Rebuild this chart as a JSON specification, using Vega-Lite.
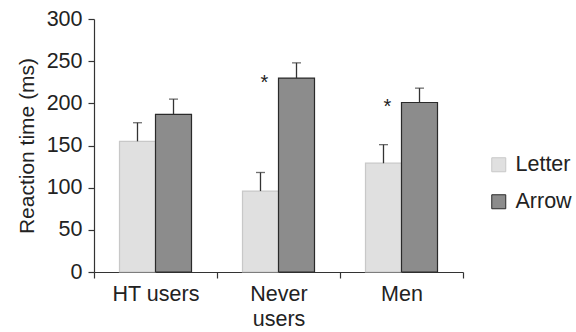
{
  "$schema": "https://vega.github.io/schema/vega-lite/v6.json",
  "width": 369,
  "height": 253,
  "autosize": {"type": "none"},
  "padding": {"left": 94, "top": 19, "right": 113, "bottom": 60},
  "background": "white",
  "config": {
    "view": {"stroke": null},
    "font": "Liberation Sans",
    "axis": {"domainColor": "#333", "tickColor": "#333", "labelColor": "#222", "titleColor": "#222", "labelFont": "Liberation Sans", "titleFont": "Liberation Sans"},
    "legend": {"labelFont": "Liberation Sans"}
  },
  "data": {
    "values": [
      {"group": "HT users", "condition": "Letter", "rt": 155, "hi": 177, "sig": false},
      {"group": "HT users", "condition": "Arrow", "rt": 187, "hi": 205, "sig": false},
      {"group": "Never users", "condition": "Letter", "rt": 96, "hi": 118, "sig": true},
      {"group": "Never users", "condition": "Arrow", "rt": 230, "hi": 248, "sig": true},
      {"group": "Men", "condition": "Letter", "rt": 129, "hi": 151, "sig": true},
      {"group": "Men", "condition": "Arrow", "rt": 201, "hi": 218, "sig": true}
    ]
  },
  "encoding": {
    "x": {
      "field": "group",
      "type": "nominal",
      "sort": ["HT users", "Never users", "Men"],
      "scale": {"paddingInner": 0, "paddingOuter": 0},
      "axis": {
        "title": null,
        "labelAngle": 0,
        "labelFontSize": 21.5,
        "labelPadding": 5,
        "labelLineHeight": 25,
        "labelBaseline": "top",
        "labelExpr": "datum.value == 'Never users' ? ['Never', 'users'] : datum.value",
        "tickSize": 6,
        "tickBand": "extent",
        "domainWidth": 1.2,
        "tickWidth": 1.2
      }
    },
    "xOffset": {
      "field": "condition",
      "sort": ["Letter", "Arrow"],
      "scale": {"paddingInner": 0, "paddingOuter": 0.708}
    }
  },
  "layer": [
    {
      "mark": {"type": "bar", "strokeWidth": 1.2},
      "encoding": {
        "y": {
          "field": "rt",
          "type": "quantitative",
          "scale": {"domain": [0, 300], "nice": false},
          "axis": {
            "title": "Reaction time (ms)",
            "values": [0, 50, 100, 150, 200, 250, 300],
            "grid": false,
            "labelFontSize": 21.5,
            "titleFontSize": 21,
            "titleFontWeight": "normal",
            "tickSize": 6,
            "labelPadding": 6,
            "titlePadding": 9,
            "domainWidth": 1.2,
            "tickWidth": 1.2
          }
        },
        "color": {
          "field": "condition",
          "type": "nominal",
          "scale": {"domain": ["Letter", "Arrow"], "range": ["#e0e0e0", "#8c8c8c"]},
          "legend": {
            "title": null,
            "orient": "none",
            "legendX": 394,
            "legendY": 135,
            "symbolType": "square",
            "symbolSize": 196,
            "symbolStrokeColor": "#444",
            "symbolStrokeWidth": 1,
            "labelFontSize": 21.5,
            "labelColor": "#222",
            "labelOffset": 6,
            "rowPadding": 14
          }
        },
        "stroke": {
          "field": "condition",
          "type": "nominal",
          "scale": {"domain": ["Letter", "Arrow"], "range": ["#c8c8c8", "#2a2a2a"]},
          "legend": null
        }
      }
    },
    {
      "mark": {"type": "rule", "stroke": "#333", "strokeWidth": 1.3},
      "encoding": {
        "y": {"field": "rt", "type": "quantitative"},
        "y2": {"field": "hi"}
      }
    },
    {
      "mark": {"type": "tick", "color": "#333", "size": 9, "thickness": 1.3, "orient": "horizontal"},
      "encoding": {
        "y": {"field": "hi", "type": "quantitative"}
      }
    },
    {
      "transform": [
        {"joinaggregate": [{"op": "max", "field": "rt", "as": "maxrt"}], "groupby": ["group"]},
        {"filter": "datum.sig && datum.condition == 'Letter'"}
      ],
      "mark": {"type": "text", "text": "*", "fontSize": 20, "color": "#222", "baseline": "alphabetic", "dy": 11, "dx": 4},
      "encoding": {
        "y": {"field": "maxrt", "type": "quantitative"}
      }
    }
  ]
}
